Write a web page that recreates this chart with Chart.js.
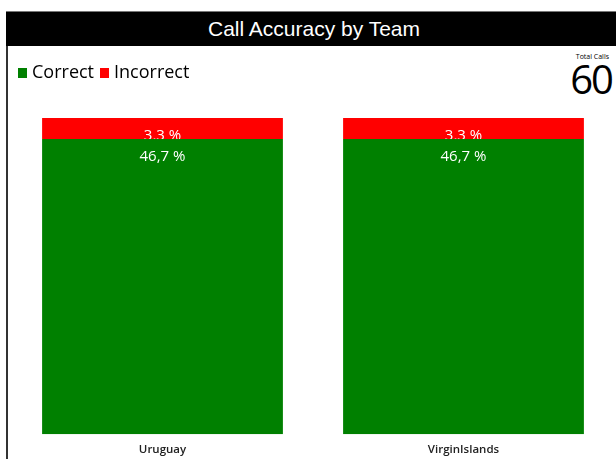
<!DOCTYPE html>
<html>
<head>
<meta charset="utf-8">
<script src="https://cdn.jsdelivr.net/npm/chart.js@4.4.1/dist/chart.umd.min.js"></script>
<style>
  html, body { margin: 0; padding: 0; background: #fff; }
  body { width: 616px; height: 459px; position: relative; overflow: hidden; }
  #title-bar {
    position: absolute; left: 6px; top: 11px; width: 616px; height: 34px;
    background: #000; border-top: 1px solid #777;
    color: #fff; font-family: "Liberation Sans", Arial, sans-serif; font-size: 21px;
    display: flex; align-items: center; justify-content: center;
  }
  #left-line { position: absolute; left: 6px; top: 46px; width: 2px; height: 413px; background: #333; }
  #total { position: absolute; right: 4px; top: 53px; text-align: right; font-family: "Open Sans", sans-serif; color: #000; }
  #total .lbl { font-size: 7px; line-height: 8px; margin-right: 3px; }
  #total .num { font-size: 40px; line-height: 36px; letter-spacing: -2px; }
  #chart-wrap { position: absolute; left: 8px; top: 47px; width: 608px; height: 419px; }
</style>
</head>
<body>
<div id="title-bar"><span>Call Accuracy by Team</span></div>
<div id="left-line"></div>
<div id="total"><div class="lbl">Total Calls</div><div class="num" id="total-num"></div></div>
<div id="chart-wrap"><canvas id="chart"></canvas></div>
<script>
const teams = ["Uruguay", "VirginIslands"];
const correctCalls = [28, 28];
const incorrectCalls = [2, 2];
const seriesNames = ["Correct", "Incorrect"];
const seriesColors = ["#008000", "#ff0000"];

const totalCalls = correctCalls.concat(incorrectCalls).reduce((sum, v) => sum + v, 0);
document.getElementById('total-num').textContent = totalCalls;

const toPercent = v => v / totalCalls * 100;
const correctPct = correctCalls.map(toPercent);
const incorrectPct = incorrectCalls.map(toPercent);
const stackMax = Math.max(...correctPct.map((v, i) => v + incorrectPct[i]));

// small square used as legend marker (keeps the text close to the box)
function swatch(color) {
  const c = document.createElement('canvas');
  c.width = 9;
  c.height = 10;
  const g = c.getContext('2d');
  g.fillStyle = color;
  g.fillRect(0, 0, 9, 10);
  return c;
}

// labels drawn right after each dataset, so the green bars cover the red labels a bit
const barLabels = {
  id: 'barLabels',
  afterDatasetDraw(chart, args) {
    const ctx = chart.ctx;
    const ds = chart.data.datasets[args.index];
    ctx.save();
    ctx.fillStyle = '#fff';
    ctx.font = '15px "Open Sans", sans-serif';
    ctx.textAlign = 'center';
    ctx.textBaseline = 'alphabetic';
    args.meta.data.forEach((bar, i) => {
      const txt = ds.data[i].toFixed(1).replace('.', ',') + ' %';
      ctx.fillText(txt, bar.x, bar.y + 22);
    });
    ctx.restore();
  }
};

const legendSpace = {
  id: 'legendSpace',
  beforeInit(chart) {
    const fit = chart.legend.fit;
    chart.legend.fit = function () {
      fit.bind(chart.legend)();
      this.height += 26;
    };
  }
};

new Chart(document.getElementById('chart'), {
  type: 'bar',
  data: {
    labels: teams,
    datasets: [
      { label: seriesNames[0], data: correctPct, backgroundColor: seriesColors[0] },
      { label: seriesNames[1], data: incorrectPct, backgroundColor: seriesColors[1] }
    ]
  },
  options: {
    responsive: true,
    maintainAspectRatio: false,
    animation: false,
    categoryPercentage: 1,
    barPercentage: 0.8,
    layout: { padding: { left: 4, right: 2, top: 7, bottom: 0 } },
    scales: {
      x: {
        stacked: true,
        grid: { display: false, drawTicks: false },
        border: { display: false },
        ticks: { color: '#222', padding: 9, font: { family: '"Open Sans", sans-serif', size: 11.5, weight: '600' } }
      },
      y: { stacked: true, display: false, min: 0, max: stackMax }
    },
    plugins: {
      legend: {
        position: 'top',
        align: 'start',
        labels: {
          usePointStyle: true,
          pointStyleWidth: 1,
          boxHeight: 9,
          padding: 10,
          color: '#000',
          font: { family: '"Open Sans", sans-serif', size: 18 },
          generateLabels(chart) {
            const items = Chart.defaults.plugins.legend.labels.generateLabels(chart);
            items.forEach(item => { item.pointStyle = swatch(seriesColors[item.datasetIndex]); });
            return items;
          }
        }
      },
      tooltip: { enabled: false }
    }
  },
  plugins: [barLabels, legendSpace]
});
</script>
</body>
</html>
